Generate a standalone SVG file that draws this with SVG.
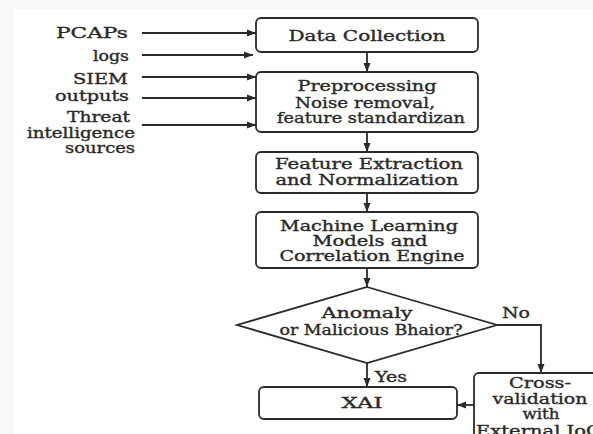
<svg xmlns="http://www.w3.org/2000/svg" width="593" height="434" viewBox="0 0 593 434">
<style>
.b{fill:#fff;stroke:#2a2a2a;stroke-width:1.8}
.c{fill:none;stroke:#2a2a2a;stroke-width:1.8}
text{font-family:"DejaVu Serif","Liberation Serif",serif;font-size:14px;fill:#2a2a2a;stroke:#2a2a2a;stroke-width:0.35}
.m{text-anchor:middle}
.e{text-anchor:end}
</style>
<defs>
<marker id="ah" markerUnits="userSpaceOnUse" markerWidth="10" markerHeight="8" refX="9" refY="4" orient="auto">
<path d="M0,0.5 L9,4 L0,7.5 Z" fill="#2a2a2a"/>
</marker>
</defs>
<rect width="593" height="434" fill="#f8f8f8"/>
<rect x="14" y="9" width="579" height="425" fill="#fff"/>
<g id="connectors">
<line class="c" x1="142" y1="33" x2="256" y2="33" marker-end="url(#ah)"/>
<line class="c" x1="142" y1="55" x2="253" y2="55" marker-end="url(#ah)"/>
<line class="c" x1="142" y1="77" x2="256" y2="77" marker-end="url(#ah)"/>
<line class="c" x1="142" y1="98" x2="256" y2="98" marker-end="url(#ah)"/>
<line class="c" x1="142" y1="125" x2="256" y2="125" marker-end="url(#ah)"/>
<line class="c" x1="367" y1="52" x2="367" y2="72" marker-end="url(#ah)"/>
<line class="c" x1="367" y1="132" x2="367" y2="152" marker-end="url(#ah)"/>
<line class="c" x1="367" y1="193" x2="367" y2="212" marker-end="url(#ah)"/>
<line class="c" x1="367" y1="268" x2="367" y2="287" marker-end="url(#ah)"/>
<line class="c" x1="367" y1="363" x2="367" y2="387" marker-end="url(#ah)"/>
<polyline class="c" points="497,325 541,325 541,373" marker-end="url(#ah)"/>
<line class="c" x1="474" y1="405" x2="457" y2="405" marker-end="url(#ah)"/>
<text x="375" y="382" textLength="32" lengthAdjust="spacingAndGlyphs">Yes</text>
<text x="502" y="318" textLength="28" lengthAdjust="spacingAndGlyphs">No</text>
</g>
<g id="inputs">
<text class="e" x="128" y="38" textLength="72" lengthAdjust="spacingAndGlyphs">PCAPs</text>
<text class="e" x="129" y="61" textLength="36" lengthAdjust="spacingAndGlyphs">logs</text>
<text class="e" x="128" y="84" textLength="55" lengthAdjust="spacingAndGlyphs">SIEM</text>
<text class="e" x="129" y="101" textLength="74" lengthAdjust="spacingAndGlyphs">outputs</text>
<text class="e" x="130" y="122" textLength="63" lengthAdjust="spacingAndGlyphs">Threat</text>
<text class="e" x="135" y="138" textLength="108" lengthAdjust="spacingAndGlyphs">intelligence</text>
<text class="e" x="135" y="153" textLength="70" lengthAdjust="spacingAndGlyphs">sources</text>
</g>
<g id="data-collection">
<rect class="b" x="256" y="18" width="222" height="34" rx="5"/>
<text class="m" x="367" y="41" textLength="157" lengthAdjust="spacingAndGlyphs">Data Collection</text>
</g>
<g id="preprocessing">
<rect class="b" x="256" y="72" width="222" height="60" rx="5"/>
<text class="m" x="367" y="91" textLength="139" lengthAdjust="spacingAndGlyphs">Preprocessing</text>
<text class="m" x="365" y="108" textLength="140" lengthAdjust="spacingAndGlyphs">Noise removal,</text>
<text class="m" x="371" y="123" textLength="188" lengthAdjust="spacingAndGlyphs">feature standardizan</text>
</g>
<g id="feature-extraction">
<rect class="b" x="256" y="152" width="222" height="41" rx="5"/>
<text class="m" x="369" y="169" textLength="188" lengthAdjust="spacingAndGlyphs">Feature Extraction</text>
<text class="m" x="367" y="185" textLength="183" lengthAdjust="spacingAndGlyphs">and Normalization</text>
</g>
<g id="ml-models">
<rect class="b" x="256" y="212" width="222" height="56" rx="5"/>
<text class="m" x="369" y="231" textLength="178" lengthAdjust="spacingAndGlyphs">Machine Learning</text>
<text class="m" x="370" y="246" textLength="115" lengthAdjust="spacingAndGlyphs">Models and</text>
<text class="m" x="372" y="261" textLength="185" lengthAdjust="spacingAndGlyphs">Correlation Engine</text>
</g>
<g id="decision">
<polygon class="b" points="367,287 497,325 367,363 237,325"/>
<text class="m" x="367" y="318" textLength="91" lengthAdjust="spacingAndGlyphs">Anomaly</text>
<text class="m" x="371" y="335" textLength="183" lengthAdjust="spacingAndGlyphs">or Malicious Bhaior?</text>
</g>
<g id="xai">
<rect class="b" x="259" y="387" width="198" height="32" rx="5"/>
<text class="m" x="362" y="408" textLength="41" lengthAdjust="spacingAndGlyphs">XAI</text>
</g>
<g id="cross-validation">
<rect class="b" x="474" y="373" width="140" height="80" rx="5"/>
<text class="m" x="540" y="388" textLength="62" lengthAdjust="spacingAndGlyphs">Cross-</text>
<text class="m" x="540" y="404" textLength="95" lengthAdjust="spacingAndGlyphs">validation</text>
<text class="m" x="541" y="419" textLength="37" lengthAdjust="spacingAndGlyphs">with</text>
<text x="476" y="436" textLength="125" lengthAdjust="spacingAndGlyphs">External IoC</text>
</g>
</svg>
